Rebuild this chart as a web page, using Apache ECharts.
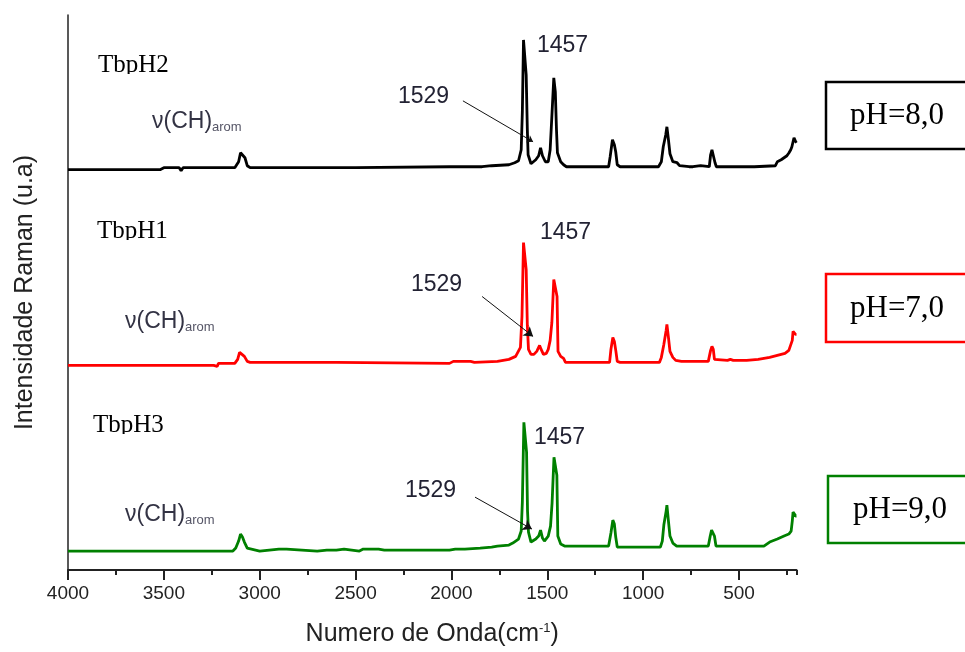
<!DOCTYPE html>
<html><head><meta charset="utf-8">
<script src="https://cdn.jsdelivr.net/npm/echarts@6/dist/echarts.min.js"></script>
<style>html,body{margin:0;padding:0;background:#fff}#c{width:965px;height:652px}</style>
</head><body><div id="c"></div>
<script>
// ---- data ----
const xTickValues = [4000, 3500, 3000, 2500, 2000, 1500, 1000, 500];
const sampleNames = ['TbpH2', 'TbpH1', 'TbpH3'];
const phLabels = ['pH=8,0', 'pH=7,0', 'pH=9,0'];
const peakLabels = ['1457', '1529'];
const bandLabel = 'ν(CH)';
const bandSub = 'arom';
const seriesColors = ['#000000', '#ff0000', '#008000'];
const baselines = [401, 205, 19];

const blackX = [4000,3520,3500,3420,3410,3400,3130,3110,3100,3090,3077,3065,3050,2500,2010,1860,1850,1840,1790,1700,1670,1650,1636,1630,1624,1616,1610,1604,1600,1585,1560,1545,1535,1525,1510,1495,1485,1477,1466,1458,1452,1447,1430,1415,1400,1180,1172,1160,1150,1143,1135,1120,920,905,895,882,876,868,860,845,823,810,760,750,740,700,690,655,648,641,634,625,618,480,470,420,310,300,280,270,250,239,230,224,218,213,208,204,200];
const blackY = [0,0,2,2,-1,2,2,8,17,15,12,4,2,2,3,3,5,3,4,5,7,9,20,58,130,130,95,40,15,6,10,14,22,14,8,8,20,50,92,78,40,17,8,5,3,3,13,30,25,18,5,3,3,8,23,35,43,30,16,8,7,4,3,5,3,4,3,3,15,20,18,7,3,3,4,3,4,8,10,12,14,17,20,23,28,32,33,28,27];

const redX = [4000,3240,3230,3222,3215,3130,3115,3105,3095,3080,3065,3050,2600,2010,1990,1900,1880,1870,1760,1700,1665,1640,1632,1624,1616,1610,1604,1598,1585,1570,1555,1540,1532,1520,1505,1495,1485,1476,1466,1458,1449,1444,1430,1415,1405,1175,1168,1158,1150,1142,1135,1120,1045,1035,1025,915,905,892,880,876,868,860,845,830,800,740,730,720,660,648,641,634,628,620,560,545,530,460,400,340,320,280,260,240,230,222,218,212,205,200];
const redY = [0,0,2,-1,2,2,6,13,11,9,4,3,3,2,4,4,3,5,4,6,9,18,49,123,123,96,40,16,11,11,14,20,16,11,12,16,25,43,86,86,69,14,9,7,3,3,16,28,24,14,4,3,3,1,3,3,8,21,35,41,28,14,8,5,4,4,5,4,4,15,19,16,6,5,5,6,5,5,6,8,9,11,12,15,16,25,34,34,31,31];

const greenX = [4000,3140,3125,3110,3100,3090,3080,3065,3055,3000,2900,2860,2850,2700,2650,2600,2560,2480,2460,2380,2350,2010,1980,1930,1920,1850,1790,1760,1700,1680,1650,1636,1630,1622,1615,1608,1603,1598,1585,1560,1545,1535,1525,1515,1495,1483,1475,1465,1458,1450,1445,1430,1410,1180,1168,1158,1150,1143,1135,1110,910,900,892,880,876,868,860,845,825,780,770,760,660,650,643,636,628,620,520,480,470,460,370,340,300,265,240,228,222,218,210,204,200];
const greenY = [0,0,3,10,17,14,9,3,1,0,2,2,0,0,1,1,2,0,2,2,1,1,2,2,3,3,4,5,6,8,12,20,49,129,129,99,40,19,9,12,15,21,13,10,15,25,48,94,94,76,15,7,5,5,18,31,27,14,4,4,4,10,26,40,46,30,15,8,5,5,7,5,5,15,21,20,15,5,5,5,7,5,5,9,12,15,17,20,30,39,37,35,35];

// annotation anchor points (data space, offset included)
const arrowFrom = [[1940, 470], [1840, 274], [1877, 73]];
const arrowTo = [[1574, 429], [1574, 234], [1580, 41]];

// ---- layout ----
const SANS = 'Liberation Sans, Arial, sans-serif';
const SERIF = 'Liberation Serif, Times New Roman, serif';
const chart = echarts.init(document.getElementById('c'), null, {renderer: 'canvas'});

function mk(xs, ys, off) { return xs.map((x, i) => [x, ys[i] + off]); }
const allX = [blackX, redX, greenX];
const allY = [blackY, redY, greenY];

const series = allX.map((xs, k) => ({
  type: 'line', xAxisIndex: 0, yAxisIndex: 0,
  data: mk(xs, allY[k], baselines[k]),
  showSymbol: false, symbol: 'none',
  lineStyle: {color: seriesColors[k], width: 2.8},
  itemStyle: {color: seriesColors[k]},
  z: 3 - k,
  markLine: {
    silent: true, animation: false,
    symbol: ['none', 'arrow'], symbolSize: k === 0 ? 6 : 9,
    lineStyle: {color: '#111', width: 1, type: 'solid'},
    label: {show: false},
    data: [[{coord: arrowFrom[k]}, {coord: arrowTo[k]}]]
  }
}));

// text annotation positions (pixels)
const nameLeft = [98, 97, 93], nameMid = [65, 231, 425], nameBase = [73, 239, 433];
const bandLeft = [152, 125, 125], bandMid = [122, 322, 515];
const l1457 = [[537, 46], [540, 233], [534, 438]];
const l1529 = [[398, 97], [411, 285], [405, 491]];
const boxX = [826, 826, 828], boxY = [82, 274, 476], boxH = [67, 68, 67];
const phLeft = [850, 850, 853];

const graphics = [];
for (let k = 0; k < 3; k++) {
  graphics.push({type: 'text', left: nameLeft[k], top: nameMid[k] - 12.5, z: 10,
    style: {text: sampleNames[k], font: '25px ' + SERIF, fill: '#000'}});
  graphics.push({type: 'rect', shape: {x: 94, y: nameBase[k] + 1, width: 84, height: 8}, z: 11,
    style: {fill: '#fff'}});
  graphics.push({type: 'text', left: bandLeft[k], top: bandMid[k] - 12, z: 10,
    style: {text: bandLabel + '{s|' + bandSub + '}', font: '23px ' + SANS, fill: '#333344',
      rich: {s: {fontSize: 13, fontFamily: SANS, fill: '#555566', verticalAlign: 'bottom', padding: [12, 0, 0, 0]}}}});
  graphics.push({type: 'text', left: l1457[k][0], top: l1457[k][1] - 11.5, z: 10,
    style: {text: peakLabels[0], font: '23px ' + SANS, fill: '#222233'}});
  graphics.push({type: 'text', left: l1529[k][0], top: l1529[k][1] - 11.5, z: 10,
    style: {text: peakLabels[1], font: '23px ' + SANS, fill: '#222233'}});
  graphics.push({type: 'rect', shape: {x: boxX[k], y: boxY[k], width: 160, height: boxH[k]}, z: 10,
    style: {fill: '#fff', stroke: seriesColors[k], lineWidth: 2.5}});
  graphics.push({type: 'text', left: phLeft[k], top: boxY[k] + boxH[k] / 2 - 15, z: 11,
    style: {text: phLabels[k], font: '31px ' + SERIF, fill: '#000'}});
}

const xCommon = {
  type: 'value', inverse: true, min: 200, max: 4000, position: 'bottom',
  splitLine: {show: false}
};

chart.setOption({
  animation: false,
  backgroundColor: '#fff',
  grid: {left: 68, right: 168.5, top: 15, bottom: 81, containLabel: false},
  xAxis: [
    Object.assign({}, xCommon, {
      minInterval: 500, maxInterval: 500,
      name: 'Numero de Onda(cm{sup|-1})', nameLocation: 'middle', nameGap: 52,
      nameTextStyle: {fontFamily: SANS, fontSize: 25, color: '#222',
        rich: {sup: {fontSize: 13, verticalAlign: 'top', color: '#222', fontFamily: SANS}}},
      axisLine: {show: true, lineStyle: {color: '#222', width: 2}},
      axisTick: {show: true, inside: false, length: 10, lineStyle: {color: '#222', width: 2}},
      axisLabel: {show: true, showMinLabel: false, margin: 14, fontFamily: SANS, fontSize: 19, color: '#222',
        formatter: v => xTickValues.includes(v) ? String(v) : ''}
    }),
    Object.assign({}, xCommon, {
      minInterval: 250, maxInterval: 250,
      axisLine: {show: false},
      axisTick: {show: true, inside: false, length: 5, lineStyle: {color: '#222', width: 2}},
      axisLabel: {show: false}
    })
  ],
  yAxis: {
    type: 'value', min: 0, max: 556,
    name: 'Intensidade Raman (u.a)', nameLocation: 'middle', nameGap: 30,
    nameTextStyle: {fontFamily: SANS, fontSize: 25, color: '#222'},
    axisLine: {show: true, lineStyle: {color: '#222', width: 1.5}},
    axisTick: {show: false}, axisLabel: {show: false}, splitLine: {show: false}
  },
  series: series,
  graphic: graphics
});
</script>
</body></html>
